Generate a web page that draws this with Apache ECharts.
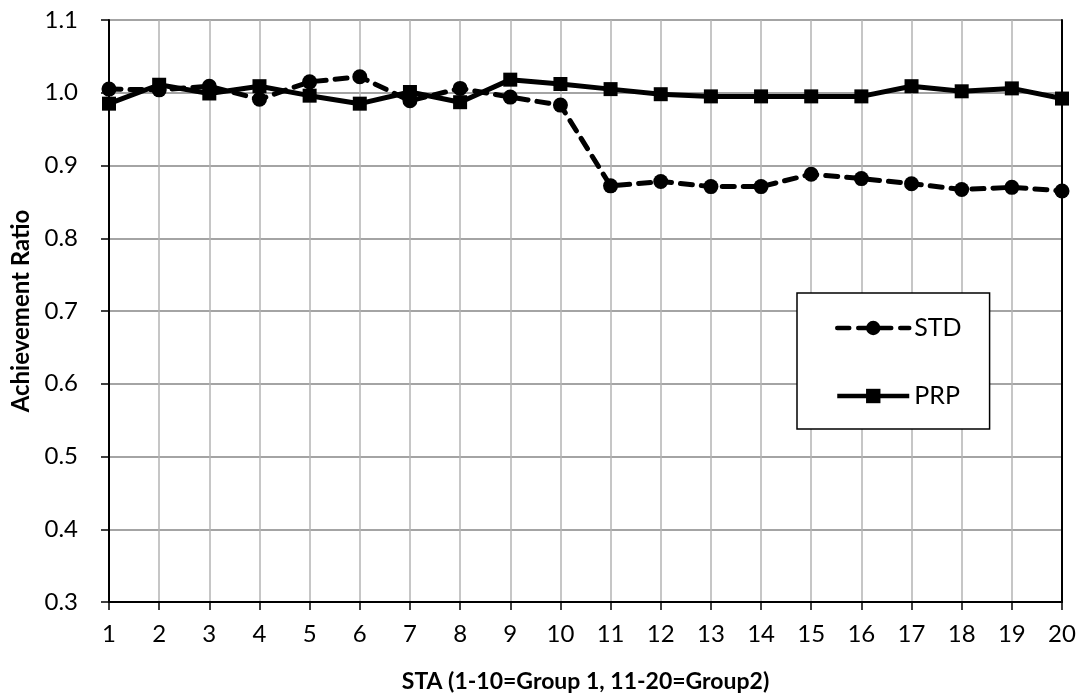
<!DOCTYPE html>
<html>
<head>
<meta charset="utf-8">
<script src="https://cdn.jsdelivr.net/npm/echarts@6/dist/echarts.min.js"></script>
<style>
  html, body { margin: 0; padding: 0; background: #fff; }
  #chart { width: 1082px; height: 700px; }
</style>
</head>
<body>
<div id="chart"></div>
<script>
// STA indices (1-10 = Group 1, 11-20 = Group 2)
var categories = ['1','2','3','4','5','6','7','8','9','10','11','12','13','14','15','16','17','18','19','20'];

// Achievement ratio per STA
var stdValues = [1.005, 1.004, 1.009, 0.991, 1.015, 1.022, 0.989, 1.006, 0.994, 0.983,
                 0.872, 0.878, 0.871, 0.871, 0.888, 0.882, 0.875, 0.867, 0.870, 0.865];
var prpValues = [0.985, 1.011, 0.999, 1.009, 0.996, 0.985, 1.001, 0.987, 1.018, 1.012,
                 1.005, 0.998, 0.995, 0.995, 0.995, 0.995, 1.009, 1.002, 1.006, 0.992];

var yMin = 0.3, yMax = 1.1, yStep = 0.1;
var xTitle = 'STA (1-10=Group 1, 11-20=Group2)';
var yTitle = 'Achievement Ratio';

var FONT = 'Lato, "Open Sans", "Liberation Sans", sans-serif';

var chart = echarts.init(document.getElementById('chart'), null, { renderer: 'canvas' });

chart.setOption({
  animation: false,
  backgroundColor: '#ffffff',
  textStyle: { fontFamily: FONT, color: '#000' },
  grid: { left: 109, right: 20, top: 20, bottom: 98, containLabel: false },
  legend: {
    orient: 'vertical',
    left: 797,
    top: 293,
    padding: [22, 28, 20, 38],
    itemGap: 42,
    itemWidth: 72,
    itemHeight: 18,
    borderColor: '#000',
    borderWidth: 1.5,
    backgroundColor: '#fff',
    lineStyle: { width: 4.5 },
    textStyle: { fontFamily: FONT, fontSize: 25, lineHeight: 26, color: '#000' },
    data: ['STD', 'PRP']
  },
  xAxis: {
    type: 'category',
    data: categories,
    boundaryGap: false,
    name: xTitle,
    nameLocation: 'middle',
    nameGap: 68,
    nameTextStyle: { fontFamily: FONT, fontSize: 23, fontWeight: 'bold', color: '#000' },
    axisLine: { lineStyle: { color: '#000', width: 2 } },
    axisTick: { show: true, length: 8, lineStyle: { color: '#000', width: 1.5 } },
    axisLabel: { fontSize: 24, color: '#000', margin: 20, fontFamily: FONT },
    splitLine: { show: true, lineStyle: { color: '#b3b3b3', width: 1.5 } }
  },
  yAxis: [{
    type: 'value',
    min: yMin,
    max: yMax,
    interval: yStep,
    name: yTitle,
    nameLocation: 'middle',
    nameGap: 67,
    nameTextStyle: { fontFamily: FONT, fontSize: 24, fontWeight: 'bold', color: '#000' },
    axisLine: { show: true, lineStyle: { color: '#000', width: 2 } },
    axisTick: { show: true, length: 8, lineStyle: { color: '#000', width: 1.5 } },
    axisLabel: {
      fontSize: 24, color: '#000', margin: 31, fontFamily: FONT,
      formatter: function (v) { return v.toFixed(1); }
    },
    splitLine: { show: true, lineStyle: { color: '#868686', width: 1.5 } }
  }, {
    // right-hand frame of the plot area
    type: 'value',
    position: 'right',
    min: yMin,
    max: yMax,
    interval: yStep,
    axisLine: { show: true, lineStyle: { color: '#000', width: 2 } },
    axisTick: { show: false },
    axisLabel: { show: false },
    splitLine: { show: false }
  }],
  series: [{
    name: 'STD',
    type: 'line',
    data: stdValues,
    symbol: 'circle',
    symbolSize: 15,
    itemStyle: { color: '#000' },
    lineStyle: { color: '#000', width: 5, type: [12, 9], cap: 'round' },
    z: 3
  }, {
    name: 'PRP',
    type: 'line',
    data: prpValues,
    symbol: 'rect',
    symbolSize: 14,
    itemStyle: { color: '#000' },
    lineStyle: { color: '#000', width: 5, type: 'solid' },
    z: 4
  }]
});
</script>
</body>
</html>
